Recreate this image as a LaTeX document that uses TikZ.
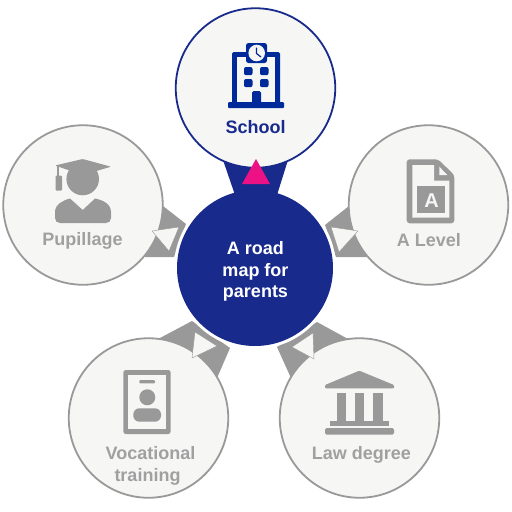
\documentclass[tikz,border=0pt]{standalone}
\usepackage{fontspec}
\setmainfont{Liberation Sans}
\definecolor{navy}{HTML}{182B8C}
\definecolor{iconblue}{HTML}{00299A}
\definecolor{pinktri}{HTML}{EC1285}
\definecolor{greyico}{HTML}{999999}
\definecolor{greytxt}{HTML}{A0A0A0}
\definecolor{discfill}{HTML}{F6F6F5}
\tikzset{
  disc/.style={circle,minimum size=159.5pt,inner sep=0pt,outer sep=0pt,fill=discfill,draw=greyico,line width=1.8pt},
  topdisc/.style={disc,draw=navy},
  hub/.style={circle,minimum size=156pt,inner sep=0pt,outer sep=0pt,fill=navy},
  label/.style={font=\bfseries\fontsize{18}{20}\selectfont,text=greytxt,inner sep=0pt,anchor=base},
  toplabel/.style={label,text=navy},
  hublabel/.style={label,text=white},
  link/.style={fill=greyico},
  pointer/.style={fill=discfill,draw=greyico,line width=0.4pt,line join=round},
  ico/.style={fill=greyico},
}
\begin{document}
\begin{tikzpicture}[x=1pt,y=-1pt]
\useasboundingbox (0,0) rectangle (512,512);
\fill[white] (0,0) rectangle (512,512);
% grey links
\fill[link] (163,206) -- (186,224) -- (174,257) -- (145,257) -- cycle;
\fill[link] (349,206) -- (325,225) -- (336,257) -- (367,257) -- cycle;
\fill[link] (160,338) -- (192,321) -- (230,348) -- (217,378) -- cycle;
\fill[link] (348,339) -- (317,322) -- (277,347) -- (291,378) -- cycle;
% white ring then hub
\fill[white] (255,268) circle (81);
\fill[navy] (223,160) -- (288,160) -- (277,195) -- (235,195) -- cycle;
\node[hub] (hubc) at (255,268) {};
% outer discs
\node[topdisc] (school) at (255.5,88) {};
\node[disc] (pupil) at (83,205) {};
\node[disc] (alevel) at (428.5,205) {};
\node[disc] (voc) at (148.5,418) {};
\node[disc] (law) at (359.5,418) {};
% pointers
\fill[pinktri] (256,159) -- (270,184) -- (242,184) -- cycle;
\draw[pointer] (152,231) -- (179,227) -- (169,251) -- cycle;
\draw[pointer] (358,231) -- (331,227) -- (339,252) -- cycle;
\draw[pointer] (195,332) -- (217,346) -- (192,358) -- cycle;
\draw[pointer] (313,333) -- (292,347) -- (314,359) -- cycle;
% labels
\node[toplabel] (t1) at (255.5,133) {School};
\node[label] (t2) at (82.5,245) {Pupillage};
\node[label] (t3) at (429,246) {A Level};
\node[label] (t4) at (150.5,459) {Vocational};
\node[label] (t5) at (147.5,481) {training};
\node[label] (t6) at (361.5,459) {Law degree};
\node[hublabel] (h1) at (255.5,254) {A road};
\node[hublabel] (h2) at (255.5,276) {map for};
\node[hublabel] (h3) at (255.5,297) {parents};
% school icon
\fill[iconblue,rounded corners=1.5pt] (232,52) rectangle (280,104);
\fill[discfill] (237,57) rectangle (275,102);
\fill[iconblue,rounded corners=1pt] (228,102) rectangle (284,108);
\fill[iconblue,rounded corners=2.5pt] (246,43) rectangle (267,63);
\fill[discfill] (256.7,53) circle (8.3);
\draw[iconblue,line width=1.2pt] (256.5,47.5) -- (256.5,53.5) -- (261,57);
\foreach \wx in {244,260}{\foreach \wy in {67,79}{
  \fill[iconblue,rounded corners=2pt] (\wx,\wy) rectangle ++(8.5,8.2);}}
\fill[iconblue,rounded corners=1.5pt] (252,91) rectangle (261,104);
% cap icon
\fill[ico] (82.7,179) circle (16.3);
\fill[ico,rounded corners=1pt] (55,165.5) -- (82.7,159) -- (111,166.7) -- (82.7,175) -- cycle;
\fill[ico] (56.5,166) rectangle (58.5,177);
\fill[ico,rounded corners=1pt] (55.5,175.5) rectangle (62,190.5);
\fill[ico] (60,223) .. controls (57,223) and (55,221) .. (55,218) -- (55,212) .. controls (55,204) and (64,200) .. (70,198.5) -- (82.7,210) -- (95,198.5) .. controls (103,200) and (111,204) .. (111,212) -- (111,218) .. controls (111,221) and (109,223) .. (106,223) -- cycle;
% document icon
\fill[ico,rounded corners=3pt] (406.7,159.3) -- (438,159.3) -- (454.3,175) -- (454.3,223.3) -- (406.7,223.3) -- cycle;
\fill[discfill] (412.3,165) -- (434,165) -- (434,180.7) -- (449.3,180.7) -- (449.3,217.7) -- (412.3,217.7) -- cycle;
\fill[discfill] (439.3,166.7) -- (447.3,175) -- (439.3,175) -- cycle;
\fill[ico] (417.3,186) rectangle (445,212.7);
\node[font=\bfseries\fontsize{20}{20}\selectfont,text=discfill,inner sep=0pt,anchor=base] (doca) at (431.5,207) {A};
% id card icon
\fill[ico,rounded corners=2.5pt] (123.3,370) rectangle (170.7,434);
\fill[discfill] (128.3,375) rectangle (165.7,429);
\fill[ico,rounded corners=1pt] (139.3,380) rectangle (155,383.3);
\fill[ico] (147.3,397.3) circle (8);
\fill[ico,rounded corners=6pt] (133.3,408.3) rectangle (161,421.7);
% bank icon
\fill[ico,rounded corners=1pt] (325,388.3) -- (325,385) -- (359.3,370.7) -- (394,385) -- (394,388.3) -- cycle;
\foreach \cx in {336.7,355,373.3}{\fill[ico] (\cx,393.3) rectangle ++(9.3,27.4);}
\fill[ico] (330,421.3) rectangle (389.3,426);
\fill[ico,rounded corners=1.5pt] (325,428) rectangle (394,434.7);
\end{tikzpicture}
\end{document}
